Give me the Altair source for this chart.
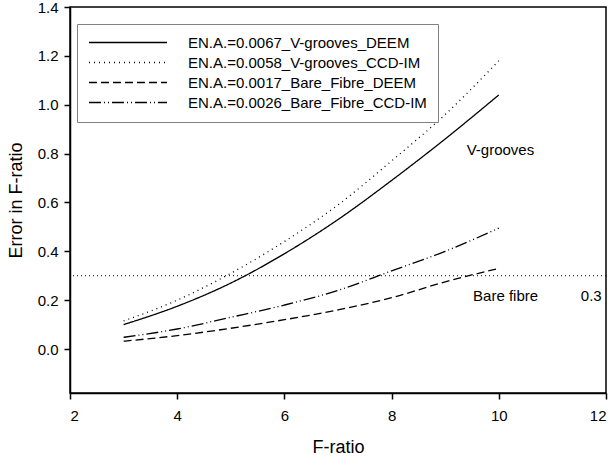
import altair as alt
import pandas as pd

# F-ratio sample points shared by all series
f_ratio = [3, 4, 5, 6, 7, 8, 9, 10]

# Error in F-ratio for each method
vg_deem = [0.10, 0.175, 0.27, 0.39, 0.53, 0.69, 0.86, 1.04]
vg_ccd = [0.115, 0.20, 0.31, 0.44, 0.59, 0.77, 0.96, 1.18]
bf_deem = [0.032, 0.055, 0.085, 0.12, 0.16, 0.21, 0.275, 0.33]
bf_ccd = [0.048, 0.082, 0.13, 0.18, 0.24, 0.32, 0.40, 0.495]

series_names = [
    "EN.A.=0.0067_V-grooves_DEEM",
    "EN.A.=0.0058_V-grooves_CCD-IM",
    "EN.A.=0.0017_Bare_Fibre_DEEM",
    "EN.A.=0.0026_Bare_Fibre_CCD-IM",
]
dashes = [[1, 0], [1, 4], [8, 4], [12, 3, 1, 3, 1, 3]]

threshold = 0.3

labels = ["V-grooves", "Bare fibre", "0.3"]
label_x = [9.4, 9.52, 11.53]
label_y = [0.815, 0.218, 0.218]

rows = []
for name, vals in zip(series_names, [vg_deem, vg_ccd, bf_deem, bf_ccd]):
    for f, e in zip(f_ratio, vals):
        rows.append({"series": name, "F": f, "err": e})
df = pd.DataFrame(rows)

FONT = "Liberation Sans"

x_scale = alt.Scale(domain=[2, 12], nice=False)
y_scale = alt.Scale(domain=[-0.18, 1.4], nice=False)

x_axis = alt.Axis(values=[2, 4, 6, 8, 10, 12], format="d", title="F-ratio",
                  grid=False, tickSize=6, labelPadding=9, titlePadding=15,
                  labelFontSize=15, titleFontSize=18)
y_axis = alt.Axis(values=[0, 0.2, 0.4, 0.6, 0.8, 1.0, 1.2, 1.4], format=".1f",
                  title="Error in F-ratio", grid=False, tickSize=6,
                  labelPadding=6, titlePadding=12,
                  labelFontSize=15, titleFontSize=18)

lines = alt.Chart(df).mark_line(color="black", strokeWidth=1.3,
                                interpolate="monotone").encode(
    x=alt.X("F:Q", scale=x_scale, axis=x_axis),
    y=alt.Y("err:Q", scale=y_scale, axis=y_axis),
    strokeDash=alt.StrokeDash(
        "series:N",
        scale=alt.Scale(domain=series_names, range=dashes),
        legend=alt.Legend(
            title=None, orient="none", legendX=7, legendY=17,
            symbolType="stroke", symbolSize=6084, symbolStrokeWidth=1.3,
            symbolStrokeColor="black", labelFontSize=15, labelFont=FONT,
            labelOffset=20, rowPadding=4, clipHeight=15, padding=11,
            strokeColor="#808080", fillColor="white", labelLimit=400,
        ),
    ),
    detail="series:N",
)

ref = alt.Chart(pd.DataFrame({"y": [threshold]})).mark_rule(
    color="black", strokeWidth=1, strokeDash=[1, 3]
).encode(y=alt.Y("y:Q", scale=y_scale))

txt = alt.Chart(pd.DataFrame({"t": labels, "x": label_x, "y": label_y})).mark_text(
    align="left", baseline="middle", fontSize=15, font=FONT, color="black"
).encode(x=alt.X("x:Q", scale=x_scale), y=alt.Y("y:Q", scale=y_scale), text="t:N")

chart = alt.layer(ref, lines, txt).properties(
    width=536, height=386,
    padding={"left": 70, "top": 7, "right": 10, "bottom": 69},
    autosize=alt.AutoSizeParams(type="none"),
).configure(font=FONT).configure_view(
    stroke="black", strokeWidth=1.5
).configure_axis(
    domainColor="black", domainWidth=1.5, tickColor="black", tickWidth=1.5,
    labelColor="black", titleColor="black", labelFont=FONT, titleFont=FONT,
    titleFontWeight="normal"
)

chart.save("out.html", embed_options={"renderer": "svg", "actions": False})
